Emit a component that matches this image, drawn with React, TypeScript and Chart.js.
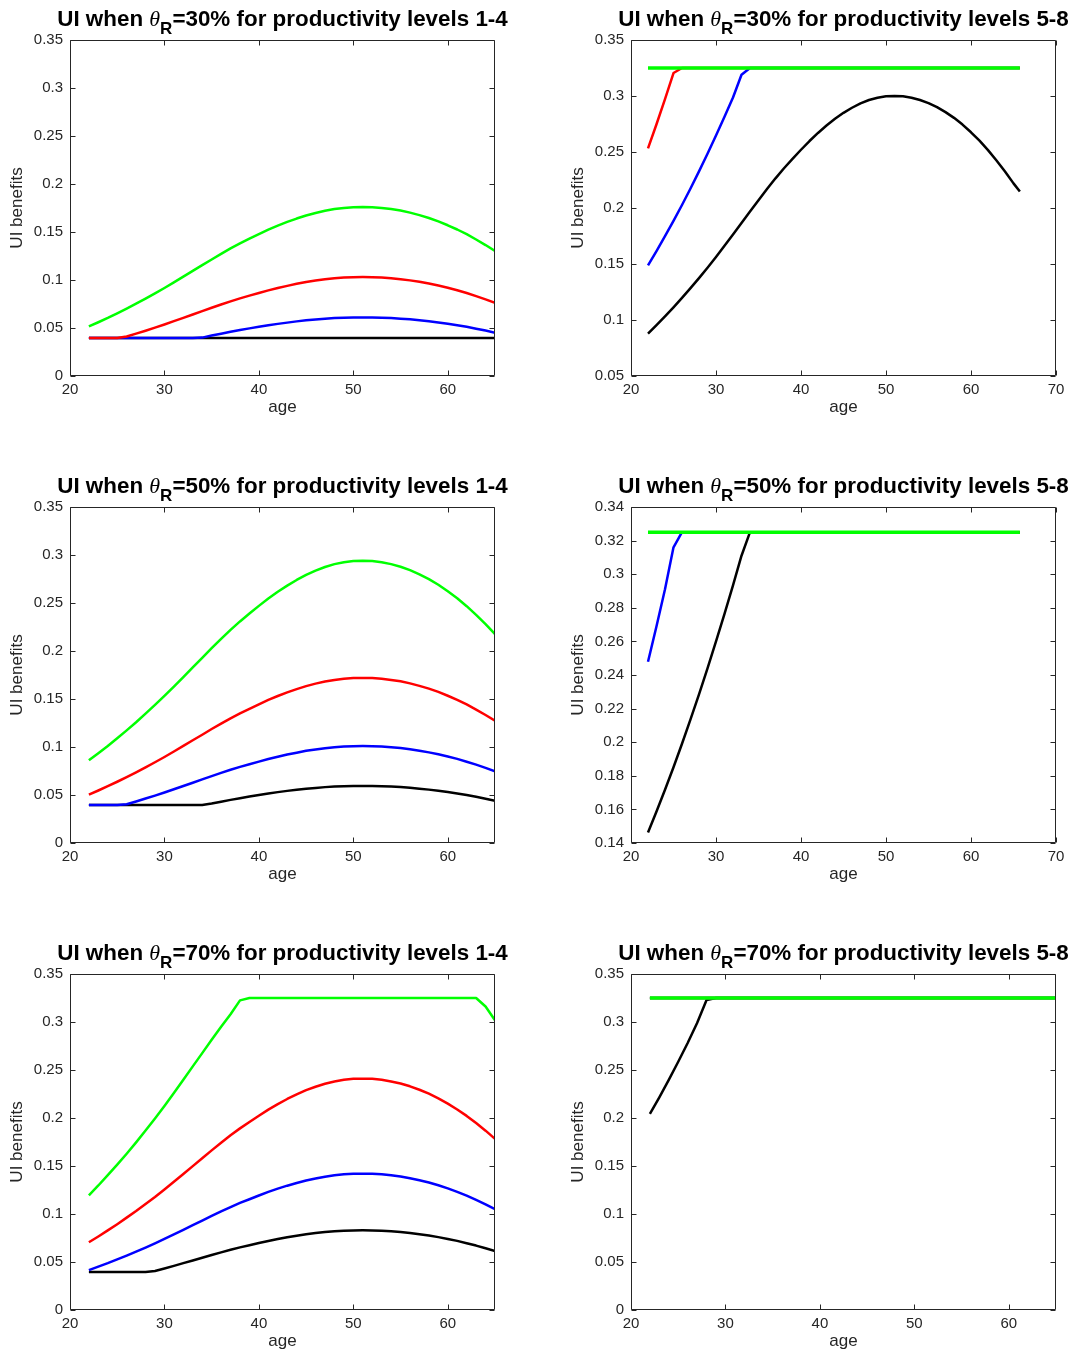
import React, { useEffect, useRef } from "react";
import { Chart, registerables } from "chart.js";

Chart.register(...registerables);

// ---------- data ----------
const ages = [
  22, 23, 24, 25, 26, 27, 28, 29, 30, 31,
  32, 33, 34, 35, 36, 37, 38, 39, 40, 41,
  42, 43, 44, 45, 46, 47, 48, 49, 50, 51,
  52, 53, 54, 55, 56, 57, 58, 59, 60, 61,
  62, 63, 64, 65, 65.75,
];

// UI floor level (flat line at the bottom)
const levelFloor = [
  0.0395, 0.0395, 0.0395, 0.0395, 0.0395, 0.0395, 0.0395, 0.0395, 0.0395, 0.0395,
  0.0395, 0.0395, 0.0395, 0.0395, 0.0395, 0.0395, 0.0395, 0.0395, 0.0395, 0.0395,
  0.0395, 0.0395, 0.0395, 0.0395, 0.0395, 0.0395, 0.0395, 0.0395, 0.0395, 0.0395,
  0.0395, 0.0395, 0.0395, 0.0395, 0.0395, 0.0395, 0.0395, 0.0395, 0.0395, 0.0395,
  0.0395, 0.0395, 0.0395, 0.0395, 0.0395,
];

// UI cap level (flat line at the top)
const levelCap = [
  0.325, 0.325, 0.325, 0.325, 0.325, 0.325, 0.325, 0.325, 0.325, 0.325,
  0.325, 0.325, 0.325, 0.325, 0.325, 0.325, 0.325, 0.325, 0.325, 0.325,
  0.325, 0.325, 0.325, 0.325, 0.325, 0.325, 0.325, 0.325, 0.325, 0.325,
  0.325, 0.325, 0.325, 0.325, 0.325, 0.325, 0.325, 0.325, 0.325, 0.325,
  0.325, 0.325, 0.325, 0.325, 0.325,
];

// theta_R = 30%, levels 1-4
const t30Level1 = levelFloor;
const t30Level2 = [
  0.0395, 0.0395, 0.0395, 0.0395, 0.0395, 0.0395, 0.0395, 0.0395, 0.0395, 0.0395,
  0.0395, 0.0395, 0.0400, 0.0421, 0.0441, 0.0461, 0.0479, 0.0496, 0.0512, 0.0528,
  0.0543, 0.0556, 0.0569, 0.0580, 0.0589, 0.0597, 0.0603, 0.0607, 0.0609, 0.0610,
  0.0609, 0.0607, 0.0603, 0.0597, 0.0590, 0.0581, 0.0570, 0.0558, 0.0544, 0.0529,
  0.0512, 0.0493, 0.0473, 0.0451, 0.0437,
];
const t30Level3 = [
  0.0395, 0.0395, 0.0395, 0.0395, 0.0411, 0.0441, 0.0472, 0.0504, 0.0537, 0.0571,
  0.0606, 0.0641, 0.0676, 0.0711, 0.0745, 0.0778, 0.0809, 0.0837, 0.0865, 0.0892,
  0.0917, 0.0939, 0.0960, 0.0979, 0.0994, 0.1007, 0.1018, 0.1025, 0.1029, 0.1030,
  0.1029, 0.1025, 0.1018, 0.1008, 0.0996, 0.0981, 0.0963, 0.0942, 0.0919, 0.0893,
  0.0864, 0.0832, 0.0798, 0.0762, 0.0737,
];
const t30Level4 = [
  0.0516, 0.0560, 0.0605, 0.0653, 0.0702, 0.0753, 0.0806, 0.0861, 0.0917, 0.0975,
  0.1035, 0.1095, 0.1155, 0.1214, 0.1272, 0.1329, 0.1382, 0.1431, 0.1478, 0.1524,
  0.1566, 0.1605, 0.1640, 0.1672, 0.1698, 0.1721, 0.1739, 0.1751, 0.1758, 0.1760,
  0.1758, 0.1751, 0.1739, 0.1723, 0.1702, 0.1676, 0.1646, 0.1610, 0.1570, 0.1526,
  0.1477, 0.1422, 0.1364, 0.1302, 0.1260,
];

// theta_R = 30%, levels 5-8
const t30Level5 = [
  0.0879, 0.0954, 0.1032, 0.1113, 0.1197, 0.1284, 0.1374, 0.1467, 0.1563, 0.1662,
  0.1764, 0.1866, 0.1968, 0.2070, 0.2169, 0.2265, 0.2355, 0.2439, 0.2520, 0.2598,
  0.2670, 0.2736, 0.2796, 0.2850, 0.2895, 0.2934, 0.2964, 0.2985, 0.2997, 0.3000,
  0.2997, 0.2985, 0.2964, 0.2937, 0.2901, 0.2856, 0.2805, 0.2745, 0.2676, 0.2601,
  0.2517, 0.2424, 0.2325, 0.2220, 0.2148,
];
const t30Level6 = [
  0.1488, 0.1615, 0.1748, 0.1885, 0.2027, 0.2174, 0.2327, 0.2484, 0.2647, 0.2814,
  0.2987, 0.3190, 0.325, 0.325, 0.325, 0.325, 0.325, 0.325, 0.325, 0.325,
  0.325, 0.325, 0.325, 0.325, 0.325, 0.325, 0.325, 0.325, 0.325, 0.325,
  0.325, 0.325, 0.325, 0.325, 0.325, 0.325, 0.325, 0.325, 0.325, 0.325,
  0.325, 0.325, 0.325, 0.325, 0.325,
];
const t30Level7 = [
  0.2532, 0.2748, 0.2972, 0.3205, 0.325, 0.325, 0.325, 0.325, 0.325, 0.325,
  0.325, 0.325, 0.325, 0.325, 0.325, 0.325, 0.325, 0.325, 0.325, 0.325,
  0.325, 0.325, 0.325, 0.325, 0.325, 0.325, 0.325, 0.325, 0.325, 0.325,
  0.325, 0.325, 0.325, 0.325, 0.325, 0.325, 0.325, 0.325, 0.325, 0.325,
  0.325, 0.325, 0.325, 0.325, 0.325,
];
const t30Level8 = levelCap;

// theta_R = 50%, levels 1-4
const t50Level1 = [
  0.0395, 0.0395, 0.0395, 0.0395, 0.0395, 0.0395, 0.0395, 0.0395, 0.0395, 0.0395,
  0.0395, 0.0395, 0.0395, 0.0411, 0.0430, 0.0449, 0.0467, 0.0484, 0.0500, 0.0515,
  0.0530, 0.0543, 0.0555, 0.0565, 0.0574, 0.0582, 0.0588, 0.0592, 0.0594, 0.0595,
  0.0594, 0.0592, 0.0588, 0.0583, 0.0575, 0.0566, 0.0556, 0.0544, 0.0531, 0.0516,
  0.0499, 0.0481, 0.0461, 0.0440, 0.0426,
];
const t50Level2 = [
  0.0395, 0.0395, 0.0395, 0.0395, 0.0403, 0.0432, 0.0463, 0.0494, 0.0526, 0.0560,
  0.0594, 0.0628, 0.0663, 0.0697, 0.0730, 0.0763, 0.0793, 0.0821, 0.0848, 0.0875,
  0.0899, 0.0921, 0.0941, 0.0960, 0.0975, 0.0988, 0.0998, 0.1005, 0.1009, 0.1010,
  0.1009, 0.1005, 0.0998, 0.0989, 0.0977, 0.0962, 0.0944, 0.0924, 0.0901, 0.0876,
  0.0847, 0.0816, 0.0783, 0.0747, 0.0723,
];
const t50Level3 = [
  0.0504, 0.0547, 0.0592, 0.0638, 0.0686, 0.0736, 0.0788, 0.0841, 0.0896, 0.0953,
  0.1011, 0.1070, 0.1128, 0.1187, 0.1244, 0.1299, 0.1350, 0.1398, 0.1445, 0.1490,
  0.1531, 0.1569, 0.1603, 0.1634, 0.1660, 0.1682, 0.1699, 0.1711, 0.1718, 0.1720,
  0.1718, 0.1711, 0.1699, 0.1684, 0.1663, 0.1637, 0.1608, 0.1574, 0.1534, 0.1491,
  0.1443, 0.1390, 0.1333, 0.1273, 0.1232,
];
const t50Level4 = [
  0.0861, 0.0935, 0.1011, 0.1091, 0.1173, 0.1258, 0.1347, 0.1438, 0.1532, 0.1629,
  0.1729, 0.1829, 0.1929, 0.2029, 0.2126, 0.2220, 0.2308, 0.2390, 0.2470, 0.2546,
  0.2617, 0.2681, 0.2740, 0.2793, 0.2837, 0.2875, 0.2905, 0.2925, 0.2937, 0.2940,
  0.2937, 0.2925, 0.2905, 0.2878, 0.2843, 0.2799, 0.2749, 0.2690, 0.2622, 0.2549,
  0.2467, 0.2376, 0.2279, 0.2176, 0.2105,
];

// theta_R = 50%, levels 5-8
const t50Level5 = [
  0.1462, 0.1587, 0.1717, 0.1851, 0.1991, 0.2136, 0.2285, 0.2440, 0.2600, 0.2764,
  0.2934, 0.3110, 0.325, 0.325, 0.325, 0.325, 0.325, 0.325, 0.325, 0.325,
  0.325, 0.325, 0.325, 0.325, 0.325, 0.325, 0.325, 0.325, 0.325, 0.325,
  0.325, 0.325, 0.325, 0.325, 0.325, 0.325, 0.325, 0.325, 0.325, 0.325,
  0.325, 0.325, 0.325, 0.325, 0.325,
];
const t50Level6 = [
  0.2479, 0.2690, 0.2910, 0.3160, 0.325, 0.325, 0.325, 0.325, 0.325, 0.325,
  0.325, 0.325, 0.325, 0.325, 0.325, 0.325, 0.325, 0.325, 0.325, 0.325,
  0.325, 0.325, 0.325, 0.325, 0.325, 0.325, 0.325, 0.325, 0.325, 0.325,
  0.325, 0.325, 0.325, 0.325, 0.325, 0.325, 0.325, 0.325, 0.325, 0.325,
  0.325, 0.325, 0.325, 0.325, 0.325,
];
const t50Level7 = levelCap;
const t50Level8 = levelCap;

// theta_R = 70%, levels 1-4
const t70Level1 = [
  0.0395, 0.0395, 0.0395, 0.0395, 0.0395, 0.0395, 0.0395, 0.0406, 0.0432, 0.0460,
  0.0488, 0.0516, 0.0544, 0.0573, 0.0600, 0.0627, 0.0652, 0.0675, 0.0697, 0.0719,
  0.0739, 0.0757, 0.0774, 0.0789, 0.0801, 0.0812, 0.0820, 0.0826, 0.0829, 0.0830,
  0.0829, 0.0826, 0.0820, 0.0813, 0.0803, 0.0790, 0.0776, 0.0759, 0.0740, 0.0720,
  0.0696, 0.0671, 0.0643, 0.0614, 0.0594,
];
const t70Level2 = [
  0.0416, 0.0452, 0.0488, 0.0527, 0.0567, 0.0608, 0.0650, 0.0694, 0.0740, 0.0787,
  0.0835, 0.0883, 0.0932, 0.0980, 0.1027, 0.1072, 0.1115, 0.1154, 0.1193, 0.1230,
  0.1264, 0.1295, 0.1323, 0.1349, 0.1370, 0.1389, 0.1403, 0.1413, 0.1419, 0.1420,
  0.1419, 0.1413, 0.1403, 0.1390, 0.1373, 0.1352, 0.1328, 0.1299, 0.1267, 0.1231,
  0.1191, 0.1147, 0.1101, 0.1051, 0.1017,
];
const t70Level3 = [
  0.0706, 0.0766, 0.0829, 0.0894, 0.0962, 0.1031, 0.1104, 0.1178, 0.1256, 0.1335,
  0.1417, 0.1499, 0.1581, 0.1663, 0.1742, 0.1820, 0.1892, 0.1959, 0.2024, 0.2087,
  0.2145, 0.2198, 0.2246, 0.2290, 0.2326, 0.2357, 0.2381, 0.2398, 0.2408, 0.2410,
  0.2408, 0.2398, 0.2381, 0.2359, 0.2330, 0.2294, 0.2253, 0.2205, 0.2150, 0.2089,
  0.2022, 0.1947, 0.1868, 0.1783, 0.1726,
];
const t70Level4 = [
  0.1195, 0.1297, 0.1404, 0.1514, 0.1628, 0.1746, 0.1869, 0.1995, 0.2126, 0.2260,
  0.2399, 0.2538, 0.2676, 0.2815, 0.2950, 0.3080, 0.3225, 0.325, 0.325, 0.325,
  0.325, 0.325, 0.325, 0.325, 0.325, 0.325, 0.325, 0.325, 0.325, 0.325,
  0.325, 0.325, 0.325, 0.325, 0.325, 0.325, 0.325, 0.325, 0.325, 0.325,
  0.325, 0.325, 0.3162, 0.3019, 0.2921,
];

// theta_R = 70%, levels 5-8
const t70Level5 = [
  0.2042, 0.2216, 0.2398, 0.2586, 0.2781, 0.2990, 0.3230, 0.325, 0.325, 0.325,
  0.325, 0.325, 0.325, 0.325, 0.325, 0.325, 0.325, 0.325, 0.325, 0.325,
  0.325, 0.325, 0.325, 0.325, 0.325, 0.325, 0.325, 0.325, 0.325, 0.325,
  0.325, 0.325, 0.325, 0.325, 0.325, 0.325, 0.325, 0.325, 0.325, 0.325,
  0.325, 0.325, 0.325, 0.325, 0.325,
];
const t70Level6 = levelCap;
const t70Level7 = levelCap;
const t70Level8 = levelCap;

// ---------- ticks ----------
const xTicks65 = [20, 30, 40, 50, 60];
const xTickLabels65 = ["20", "30", "40", "50", "60"];
const xTicks70 = [20, 30, 40, 50, 60, 70];
const xTickLabels70 = ["20", "30", "40", "50", "60", "70"];

const yTicksFull = [0, 0.05, 0.1, 0.15, 0.2, 0.25, 0.3, 0.35];
const yTickLabelsFull = ["0", "0.05", "0.1", "0.15", "0.2", "0.25", "0.3", "0.35"];
const yTicksTop = [0.05, 0.1, 0.15, 0.2, 0.25, 0.3, 0.35];
const yTickLabelsTop = ["0.05", "0.1", "0.15", "0.2", "0.25", "0.3", "0.35"];
const yTicksFine = [0.14, 0.16, 0.18, 0.2, 0.22, 0.24, 0.26, 0.28, 0.3, 0.32, 0.34];
const yTickLabelsFine = ["0.14", "0.16", "0.18", "0.2", "0.22", "0.24", "0.26", "0.28", "0.3", "0.32", "0.34"];

const thetaLabels = ["30%", "50%", "70%"];
const levelGroups = ["1-4", "5-8"];
const seriesColors = ["#000000", "#0000ff", "#ff0000", "#00ff00"];

// ---------- styling ----------
const SANS = '"Liberation Sans", Arial, Helvetica, sans-serif';
const SERIF = '"Liberation Serif", "DejaVu Serif", serif';
const AXIS_COLOR = "#262626";
const CANVAS_H = 423;
const lowWidths = [2.5, 2.5, 2.5, 2.5];
const highWidths = [2.5, 2.5, 2.5, 3.4];

type PanelCfg = {
  left: number;
  top: number;
  width: number;
  theta: string;
  levels: string;
  xMax: number;
  xTicks: number[];
  xLabels: string[];
  yMin: number;
  yMax: number;
  yTicks: number[];
  yLabels: string[];
  series: number[][];
  widths: number[];
};

const panels: PanelCfg[] = [
  { left: 0, top: 0, width: 540, theta: thetaLabels[0], levels: levelGroups[0], xMax: 65, xTicks: xTicks65, xLabels: xTickLabels65, yMin: 0, yMax: 0.35, yTicks: yTicksFull, yLabels: yTickLabelsFull, series: [t30Level1, t30Level2, t30Level3, t30Level4], widths: lowWidths },
  { left: 561, top: 0, width: 515, theta: thetaLabels[0], levels: levelGroups[1], xMax: 70, xTicks: xTicks70, xLabels: xTickLabels70, yMin: 0.05, yMax: 0.35, yTicks: yTicksTop, yLabels: yTickLabelsTop, series: [t30Level5, t30Level6, t30Level7, t30Level8], widths: highWidths },
  { left: 0, top: 467, width: 540, theta: thetaLabels[1], levels: levelGroups[0], xMax: 65, xTicks: xTicks65, xLabels: xTickLabels65, yMin: 0, yMax: 0.35, yTicks: yTicksFull, yLabels: yTickLabelsFull, series: [t50Level1, t50Level2, t50Level3, t50Level4], widths: lowWidths },
  { left: 561, top: 467, width: 515, theta: thetaLabels[1], levels: levelGroups[1], xMax: 70, xTicks: xTicks70, xLabels: xTickLabels70, yMin: 0.14, yMax: 0.34, yTicks: yTicksFine, yLabels: yTickLabelsFine, series: [t50Level5, t50Level6, t50Level7, t50Level8], widths: highWidths },
  { left: 0, top: 934, width: 540, theta: thetaLabels[2], levels: levelGroups[0], xMax: 65, xTicks: xTicks65, xLabels: xTickLabels65, yMin: 0, yMax: 0.35, yTicks: yTicksFull, yLabels: yTickLabelsFull, series: [t70Level1, t70Level2, t70Level3, t70Level4], widths: lowWidths },
  { left: 561, top: 934, width: 515, theta: thetaLabels[2], levels: levelGroups[1], xMax: 65, xTicks: xTicks65, xLabels: xTickLabels65, yMin: 0, yMax: 0.35, yTicks: yTicksFull, yLabels: yTickLabelsFull, series: [t70Level5, t70Level6, t70Level7, t70Level8], widths: highWidths },
];

// ---------- plugins ----------
const titlePlugin = {
  id: "panelTitle",
  afterDraw(chart: any, _args: any, opts: any) {
    const { ctx, chartArea } = chart;
    const parts = [
      { text: "UI when ", font: `bold 22.4px ${SANS}`, dy: 0 },
      { text: "\u03b8", font: `italic 22px ${SERIF}`, dy: 0 },
      { text: "R", font: `bold 17px ${SANS}`, dy: 8 },
      { text: `=${opts.theta} for productivity levels ${opts.levels}`, font: `bold 22.4px ${SANS}`, dy: 0 },
    ];
    ctx.save();
    let total = 0;
    const widths = parts.map((p) => {
      ctx.font = p.font;
      const w = ctx.measureText(p.text).width;
      total += w;
      return w;
    });
    let x = (chartArea.left + chartArea.right) / 2 - total / 2;
    const baseY = 26;
    ctx.fillStyle = "#000000";
    ctx.textBaseline = "alphabetic";
    ctx.textAlign = "left";
    parts.forEach((p, i) => {
      ctx.font = p.font;
      ctx.fillText(p.text, x, baseY + p.dy);
      x += widths[i];
    });
    ctx.restore();
  },
};

const framePlugin = {
  id: "matlabFrame",
  afterDatasetsDraw(chart: any) {
    const { ctx, chartArea: a, scales } = chart;
    const L = Math.round(a.left) + 0.5;
    const R = Math.round(a.right) - 0.5;
    const T = Math.round(a.top) + 0.5;
    const B = Math.round(a.bottom) - 0.5;
    const tl = 5;
    ctx.save();
    ctx.strokeStyle = AXIS_COLOR;
    ctx.lineWidth = 1;
    ctx.beginPath();
    ctx.rect(L, T, R - L, B - T);
    scales.x.ticks.forEach((t: any) => {
      const px = Math.round(scales.x.getPixelForValue(t.value)) + 0.5;
      ctx.moveTo(px, B);
      ctx.lineTo(px, B - tl);
      ctx.moveTo(px, T);
      ctx.lineTo(px, T + tl);
    });
    scales.y.ticks.forEach((t: any) => {
      const py = Math.round(scales.y.getPixelForValue(t.value)) + 0.5;
      ctx.moveTo(L, py);
      ctx.lineTo(L + tl, py);
      ctx.moveTo(R, py);
      ctx.lineTo(R - tl, py);
    });
    ctx.stroke();
    ctx.restore();
  },
};

// ---------- components ----------
function Panel({ cfg }: { cfg: PanelCfg }) {
  const ref = useRef<HTMLCanvasElement>(null);

  useEffect(() => {
    const canvas = ref.current;
    if (!canvas) return;
    const n = cfg.series.length;
    const chart = new Chart(canvas, {
      type: "line",
      data: {
        datasets: cfg.series.map((values, i) => ({
          label: `level ${i + 1}`,
          data: ages.map((a, j) => ({ x: a, y: values[j] })),
          borderColor: seriesColors[i],
          backgroundColor: seriesColors[i],
          borderWidth: cfg.widths[i],
          pointRadius: 0,
          pointHoverRadius: 0,
          tension: 0,
          fill: false,
          borderJoinStyle: "round" as const,
          order: n - i,
        })),
      },
      options: {
        responsive: false,
        maintainAspectRatio: false,
        animation: false,
        devicePixelRatio: 1,
        events: [],
        layout: { padding: { left: 0, top: 40, right: cfg.width - 495, bottom: 0 } },
        plugins: {
          legend: { display: false },
          tooltip: { enabled: false },
          title: { display: false },
          panelTitle: { theta: cfg.theta, levels: cfg.levels },
        } as any,
        scales: {
          x: {
            type: "linear",
            min: 20,
            max: cfg.xMax,
            afterBuildTicks: (scale: any) => {
              scale.ticks = cfg.xTicks.map((v) => ({ value: v }));
            },
            afterFit: (scale: any) => {
              scale.height = 47;
            },
            ticks: {
              autoSkip: false,
              maxRotation: 0,
              padding: 5,
              color: AXIS_COLOR,
              font: { family: SANS, size: 15 },
              callback: (_v: any, i: number) => cfg.xLabels[i],
            },
            grid: { display: false, drawTicks: false },
            border: { display: false },
            title: {
              display: true,
              text: "age",
              color: AXIS_COLOR,
              font: { family: SANS, size: 17 },
              padding: { top: 0, bottom: 5 },
            },
          },
          y: {
            type: "linear",
            min: cfg.yMin,
            max: cfg.yMax,
            afterBuildTicks: (scale: any) => {
              scale.ticks = cfg.yTicks.map((v) => ({ value: v }));
            },
            afterFit: (scale: any) => {
              scale.width = 70;
            },
            ticks: {
              autoSkip: false,
              padding: 7,
              color: AXIS_COLOR,
              font: { family: SANS, size: 15 },
              callback: (_v: any, i: number) => cfg.yLabels[i],
            },
            grid: { display: false, drawTicks: false },
            border: { display: false },
            title: {
              display: true,
              text: "UI benefits",
              color: AXIS_COLOR,
              font: { family: SANS, size: 17 },
              padding: { top: 7, bottom: 0 },
            },
          },
        },
      } as any,
      plugins: [titlePlugin, framePlugin],
    });
    return () => chart.destroy();
  }, [cfg]);

  return (
    <canvas
      ref={ref}
      width={cfg.width}
      height={CANVAS_H}
      style={{ position: "absolute", left: cfg.left, top: cfg.top, width: cfg.width, height: CANVAS_H }}
    />
  );
}

export default function App() {
  return (
    <div
      style={{
        position: "absolute",
        left: 0,
        top: 0,
        width: 1076,
        height: 1357,
        overflow: "hidden",
        background: "#ffffff",
      }}
    >
      {panels.map((cfg, i) => (
        <Panel key={i} cfg={cfg} />
      ))}
    </div>
  );
}
